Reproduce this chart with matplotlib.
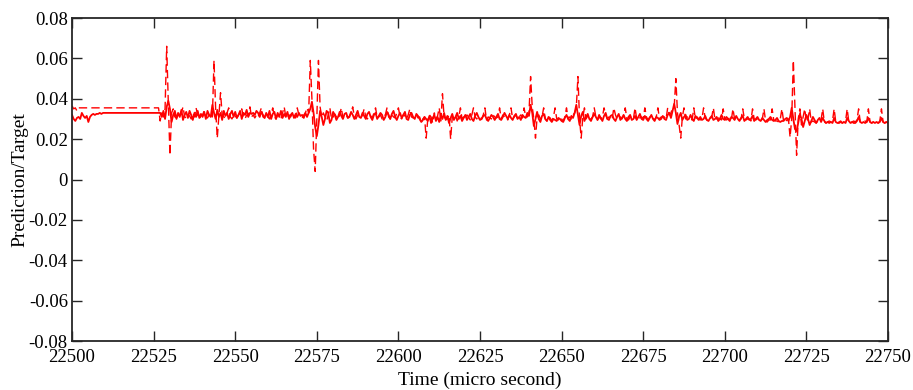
import numpy as np
import matplotlib
matplotlib.use('Agg')
from matplotlib import pyplot as plt
from matplotlib import ticker

plt.rcParams.update({'font.family': 'serif',
                     'font.serif': ['Liberation Serif', 'DejaVu Serif'],
                     'font.size': 13.5,
                     'axes.unicode_minus': False})

# time axis: 22500 .. 22750 micro seconds, 0.5 us sampling
t_start, t_step = 22500.0, 0.5

# prediction (solid), units of 1e-3, one row = 5 us
prediction_milli = [
    32, 30, 29, 30.5, 31, 30, 33, 31.5, 30.5, 31.5,            # 22500
    28.5, 31, 32, 32.5, 32, 32.5, 32.5, 33, 32.5, 33,          # 22505
    33, 33, 33, 33, 33, 33, 33, 33, 33, 33,                    # 22510
    33, 33, 33, 33, 33, 33, 33, 33, 33, 33,                    # 22515
    33, 33, 33, 33, 33, 33, 33, 33, 33, 33,                    # 22520
    33, 33, 33, 33, 33, 31, 34, 30, 36, 39,                    # 22525
    35, 28.5, 32, 34, 30, 33, 31, 34.5, 29.5, 32,              # 22530
    33.5, 30.5, 34, 32, 29.5, 33, 31, 34, 30.5, 32.5,          # 22535
    31, 33.5, 30, 34, 32, 31, 37, 33, 30, 34.5,                # 22540
    31, 33, 29.5, 34, 31.5, 33, 30, 32.5, 34, 31,              # 22545
    33.5, 30.5, 32, 34, 30, 33, 32, 34.5, 31, 33,              # 22550
    32.5, 33, 32, 34, 33, 31, 33.5, 32, 30.5, 33,              # 22555
    31, 34, 30, 32.5, 33.5, 30, 33, 31, 34, 30.5,              # 22560
    32.5, 31, 33.5, 30, 32, 33, 30.5, 32.5, 31, 33,            # 22565
    31.5, 32, 30.5, 33, 31, 33, 35, 38.5, 33, 26,              # 22570
    21.5, 27, 34, 31, 27, 30, 34, 33, 28, 29.5,                # 22575
    33.5, 32, 29.5, 31, 33.5, 31.5, 30, 32.5, 33, 30.5,        # 22580
    31, 33.5, 32, 30, 32, 34, 31, 30.5, 33, 31.5,              # 22585
    30, 32.5, 33.5, 31, 29.5, 32, 33, 30, 31.5, 33,            # 22590
    32, 29.5, 31, 33.5, 32, 30, 32.5, 34, 31, 29.5,            # 22595
    31.5, 33, 30.5, 32, 33.5, 30, 29.5, 32, 33, 31,            # 22600
    30, 32.5, 31.5, 30, 28.5, 29.5, 31, 30, 29, 31.5,          # 22605
    28, 30.5, 32, 29, 31, 28.5, 32, 30, 33, 29.5,              # 22610
    31.5, 28, 30.5, 32.5, 29.5, 31, 33, 30, 31.5, 29,          # 22615
    30.5, 32, 29.5, 31, 32.5, 30, 29, 31.5, 33, 31,            # 22620
    29.5, 30, 31.5, 32, 30, 29, 30.5, 32, 31, 29.5,            # 22625
    31, 32.5, 30, 29.5, 31, 33, 31.5, 30, 32, 30.5,            # 22630
    29.5, 31.5, 32.5, 30, 31, 29.5, 32, 31, 30.5, 33,          # 22635
    31.5, 37, 33, 26.5, 30, 33.5, 30, 28.5, 31.5, 32.5,        # 22640
    30, 29, 31, 29.5, 28.5, 30, 29.5, 29, 30.5, 30,            # 22645
    29, 28.5, 30.5, 32, 30, 29, 31.5, 30.5, 33, 37,            # 22650
    32, 27, 31.5, 33.5, 29, 31, 32.5, 30, 29, 31,              # 22655
    32.5, 31, 29.5, 32, 30.5, 29, 31.5, 33, 30, 29.5,          # 22660
    31.5, 32, 30, 29, 31, 32.5, 29.5, 30.5, 32, 30,            # 22665
    29, 31, 32, 29.5, 30, 31.5, 29.5, 31, 32.5, 30,            # 22670
    29.5, 31.5, 30, 29, 30.5, 32, 30, 29, 31, 30.5,            # 22675
    29.5, 30, 31.5, 30, 29.5, 32, 33, 30.5, 34, 37.5,          # 22680
    33, 27.5, 31, 33, 29.5, 31, 32, 29.5, 30, 32,              # 22685
    30, 29, 31.5, 30.5, 29.5, 31, 29.5, 30, 31.5, 29.5,        # 22690
    29, 30.5, 31.5, 29.5, 30, 31, 29, 30, 32, 30,              # 22695
    29.5, 31, 30, 29, 31, 30.5, 29.5, 31.5, 30, 29,            # 22700
    30.5, 31.5, 29, 30, 31, 29.5, 30, 31.5, 29, 30,            # 22705
    31, 29.5, 29, 30.5, 29.5, 28.5, 29.5, 30, 31, 29.5,        # 22710
    29, 29.5, 30.5, 29, 28.5, 29, 29, 30, 30.5, 29,            # 22715
    31, 35.5, 30, 25, 24, 28, 32.5, 30, 26, 29,                # 22720
    32, 30, 27, 29, 31, 29.5, 28, 29.5, 30.5, 28.5,            # 22725
    30.5, 29, 28, 28.5, 28, 28.5, 28, 30.5, 28.5, 28,          # 22730
    28, 28.5, 28, 28.5, 28, 30.5, 29, 28, 28.5, 28,            # 22735
    28, 29, 31, 28.5, 28, 28.5, 28, 28.5, 30.5, 28.5,          # 22740
    28, 28.5, 28, 28.5, 28, 28.5, 30.5, 28.5, 28, 28.5,        # 22745
    28,                                                        # 22750
]

# target (dashed), units of 1e-3
target_milli = [
    36.5, 35, 35.5, 34, 35.5, 35.5, 35.5, 35.5, 35.5, 35.5,    # 22500
    35.5, 35.5, 35.5, 35.5, 35.5, 35.5, 35.5, 35.5, 35.5, 35.5,
    35.5, 35.5, 35.5, 35.5, 35.5, 35.5, 35.5, 35.5, 35.5, 35.5,
    35.5, 35.5, 35.5, 35.5, 35.5, 35.5, 35.5, 35.5, 35.5, 35.5,
    35.5, 35.5, 35.5, 35.5, 35.5, 35.5, 35.5, 35.5, 35.5, 35.5,
    35.5, 35.5, 35.5, 35.5, 29, 33, 31, 35, 66, 38,            # 22525
    12, 33, 35, 31, 30.5, 32, 31, 33, 36, 31,                  # 22530
    30.5, 32, 31.5, 30, 33, 31, 35.5, 32, 30, 31.5,            # 22535
    32, 34, 31, 30.5, 32, 33, 31, 59, 35, 20.5,                # 22540
    32, 43, 32, 31, 30.5, 33, 35.5, 31, 30, 32,                # 22545
    31.5, 30.5, 32, 33, 35, 31, 30, 32, 31.5, 36,              # 22550
    31, 32, 30.5, 32, 31, 33, 35.5, 31, 30.5, 32,              # 22555
    31, 30, 32.5, 35.5, 31, 30, 32, 31.5, 30, 33,              # 22560
    36, 31, 30.5, 32, 31, 33, 31.5, 30.5, 35.5, 32,            # 22565
    31, 30.5, 32, 33, 35.5, 33, 59, 40, 15, 4,                 # 22570
    30, 59, 36, 31, 33, 31, 29, 32, 35.5, 30,                  # 22575
    31, 32.5, 31, 30, 32, 35.5, 30.5, 31, 32, 30.5,            # 22580
    31.5, 33, 36, 31, 30, 32, 31, 30.5, 32, 35,                # 22585
    31, 30, 32, 31.5, 30.5, 33, 35.5, 30.5, 31, 32,            # 22590
    30, 31.5, 32, 35.5, 31, 30, 32, 31, 30.5, 33,              # 22595
    35.5, 31, 30, 32, 31.5, 30, 32, 35, 31, 30.5,              # 22600
    31, 32, 30.5, 31, 28, 30, 31, 20.5, 30, 32,                # 22605
    31, 28, 33, 30, 31.5, 35.5, 29, 42.5, 31, 30,              # 22610
    30, 32, 20, 31, 30.5, 32, 29, 31, 35.5, 30,                # 22615
    31, 30, 32, 31, 29.5, 32, 35.5, 31, 30, 31,                # 22620
    31, 30, 32, 35.5, 29.5, 31, 30.5, 30, 32, 31,              # 22625
    30.5, 31, 35.5, 30, 32, 31, 31, 29.5, 32, 35.5,            # 22630
    30, 31, 32, 30, 31, 32, 30.5, 35.5, 31, 31,                # 22635
    33, 51, 36, 30, 20.5, 31, 32, 30, 31, 35.5,                # 22640
    30, 29, 31, 30.5, 29, 31, 35.5, 30, 29.5, 31,              # 22645
    30, 29, 31, 35.5, 30, 31, 30, 32, 33, 35.5,                # 22650
    51, 30, 20.5, 31, 35.5, 30, 31.5, 30, 30, 31,              # 22655
    35.5, 31, 29.5, 31, 30, 31, 35.5, 32, 30, 31,              # 22660
    31, 30, 35.5, 32, 30, 31, 31, 30, 31.5, 35.5,              # 22665
    30, 29.5, 31, 31, 30, 35.5, 30, 31, 30.5, 31,              # 22670
    30, 35.5, 31, 29.5, 31, 30, 30.5, 29.5, 31, 35.5,          # 22675
    30, 31, 31, 31, 30, 35.5, 32, 33, 35.5, 36,                # 22680
    50, 33, 27, 20.5, 31, 35.5, 30, 31, 30.5, 30,              # 22685
    29.5, 35.5, 30, 31, 30, 29.5, 30, 35.5, 30.5, 29.5,        # 22690
    30.5, 30, 31, 35.5, 29.5, 30, 30.5, 30, 29.5, 35,          # 22695
    30, 29.5, 30, 30.5, 29.5, 35, 30, 30, 30.5, 29.5,          # 22700
    30, 35, 30, 29.5, 30, 30, 29, 35, 30, 29.5,                # 22705
    30, 29.5, 29, 30, 35, 29, 28.5, 29.5, 29.5, 35,            # 22710
    29.5, 29, 29, 28.5, 30, 35, 29, 28.5, 29.5, 30,            # 22715
    21, 30, 59, 35, 12, 30, 35, 27, 31, 35,                    # 22720
    28.5, 30, 35, 28.5, 29, 28.5, 28, 29, 28.5, 29.5,          # 22725
    35, 28.5, 28, 28.5, 29, 28.5, 29, 35, 28.5, 28,            # 22730
    28.5, 29, 28, 28.5, 29, 35, 28.5, 28, 28.5, 29,            # 22735
    28.5, 29.5, 35, 28.5, 28, 28.5, 29, 28.5, 35, 28.5,        # 22740
    28, 28.5, 29, 28.5, 28, 29, 35, 28.5, 28, 28.5,            # 22745
    28.5,                                                      # 22750
]

prediction = np.array(prediction_milli) * 1e-3
target = np.array(target_milli) * 1e-3
t = t_start + t_step * np.arange(len(prediction))

fig = plt.figure(figsize=(9.13, 3.90), dpi=100)
ax = fig.add_axes([0.0789, 0.1256, 0.8937, 0.8282])

ax.plot(t, target, color='#ff0000', linewidth=1.0, dashes=(6, 3))
ax.plot(t, prediction, color='#ff0000', linewidth=1.3)

ax.set_xlim(22500, 22750)
ax.set_ylim(-0.08, 0.08)
ax.xaxis.set_major_locator(ticker.MultipleLocator(25))
ax.yaxis.set_major_locator(ticker.MultipleLocator(0.02))
ax.yaxis.set_major_formatter(ticker.FuncFormatter(lambda v, p: '0' if abs(v) < 1e-9 else '%g' % v))

ax.set_xlabel('Time (micro second)', fontsize=14, labelpad=4)
ax.set_ylabel('Prediction/Target', fontsize=14, labelpad=0)

for s in ax.spines.values():
    s.set_linewidth(1.3)
    s.set_color('#262626')
ax.tick_params(direction='in', length=7, width=1.0, color='#262626',
               top=True, right=True, labelsize=13.5)
ax.tick_params(axis='x', pad=6)
ax.tick_params(axis='y', pad=3)

plt.savefig('out.png', dpi=100)
